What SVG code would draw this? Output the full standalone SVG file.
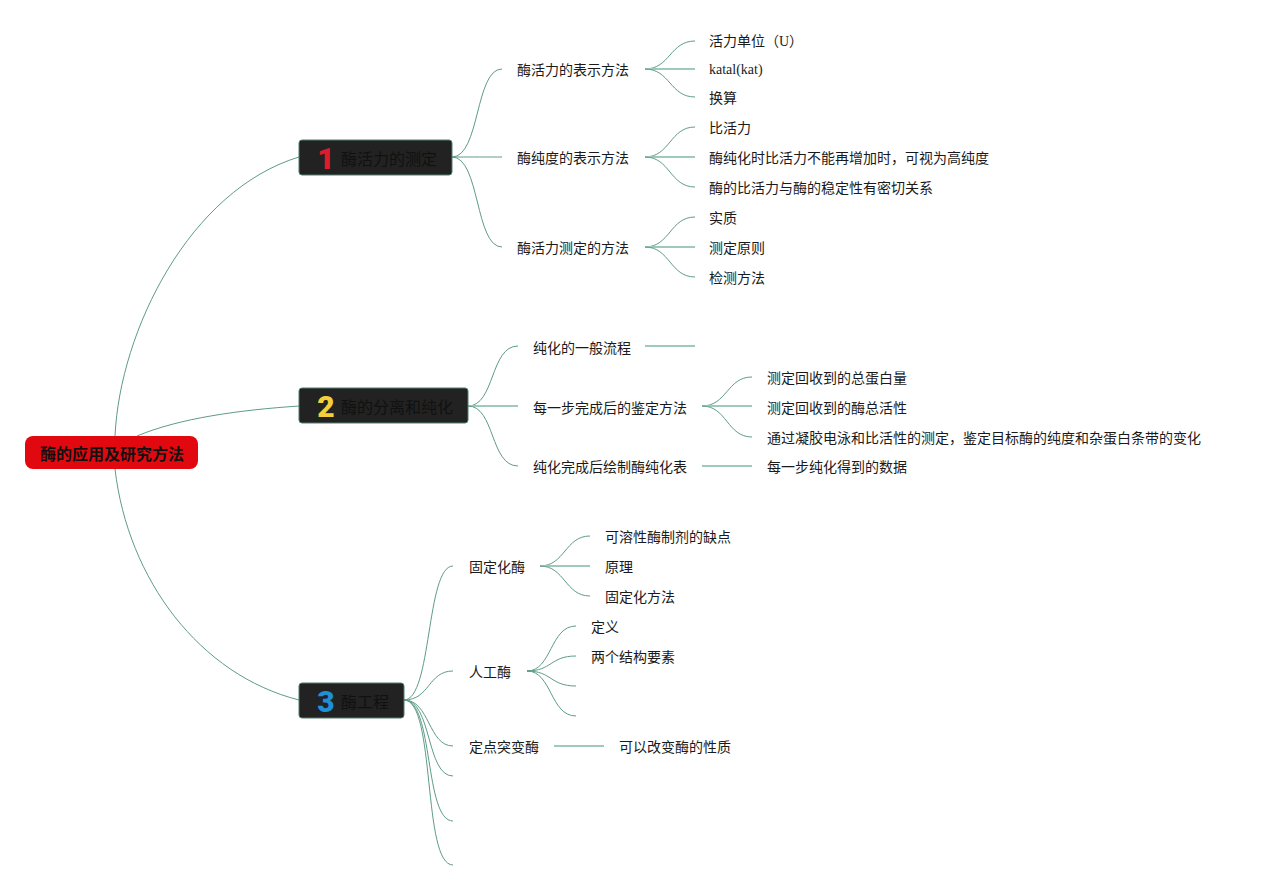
<svg xmlns="http://www.w3.org/2000/svg" width="1261" height="891" viewBox="0 0 1261 891">
<style>
.c{fill:none;stroke:#5e9c86;stroke-width:1}
.s{fill:none;stroke:#9fc9b9;stroke-width:2}
.t{font-family:"Noto Sans CJK SC","Liberation Sans",sans-serif;font-size:14px;fill:#1a1a1a;dominant-baseline:central}
.ser{font-family:"Liberation Serif","Noto Sans CJK SC",serif}
.nb{fill:#222;stroke:#4f7f6d;stroke-width:1}
.nt{font-family:"Noto Sans CJK SC","Liberation Sans",sans-serif;font-size:16px;fill:#111;dominant-baseline:central}
.num{font-family:Roboto,"Liberation Sans",sans-serif;font-size:30px;font-weight:900;text-anchor:middle;dominant-baseline:central}
</style>
<rect width="1261" height="891" fill="#fff"/>
<g id="connectors">
<path class="c" d="M115,436 C120,330 190,190 299,157"/>
<path class="c" d="M137,436 C180,418 240,410 299,406"/>
<path class="c" d="M115,469 C128,580 200,675 299,700"/>
<path class="c" d="M452,157 C480,157 475,69 502,69"/>
<path class="c" d="M452,157 C477,157 477,157 502,157"/>
<path class="c" d="M452,157 C480,157 475,247 502,247"/>
<path class="c" d="M645,69 C670,69 670,41 695,41"/>
<path class="s" d="M645,69 L695,69"/>
<path class="c" d="M645,69 C670,69 670,97 695,97"/>
<path class="c" d="M645,157 C670,157 670,127 695,127"/>
<path class="s" d="M645,157 L695,157"/>
<path class="c" d="M645,157 C670,157 670,187 695,187"/>
<path class="c" d="M645,247 C670,247 670,217 695,217"/>
<path class="s" d="M645,247 L695,247"/>
<path class="c" d="M645,247 C670,247 670,277 695,277"/>
<path class="c" d="M468,406 C495,406 490,346 518,346"/>
<path class="s" d="M468,406 L518,406"/>
<path class="c" d="M468,406 C495,406 490,466 518,466"/>
<path class="s" d="M645,346 L695,346"/>
<path class="c" d="M702,406 C727,406 727,377 752,377"/>
<path class="s" d="M702,406 L752,406"/>
<path class="c" d="M702,406 C727,406 727,437 752,437"/>
<path class="s" d="M702,466 L752,466"/>
<path class="c" d="M404,700 C432,700 426,566 453,566"/>
<path class="c" d="M404,700 C430,700 428,671 453,671"/>
<path class="c" d="M404,700 C430,700 428,746 453,746"/>
<path class="c" d="M404,700 C432,700 426,776 453,776"/>
<path class="c" d="M404,700 C434,700 424,821 453,821"/>
<path class="c" d="M404,700 C436,700 422,865 453,865"/>
<path class="c" d="M540,566 C565,566 565,536 590,536"/>
<path class="s" d="M540,566 L590,566"/>
<path class="c" d="M540,566 C565,566 565,596 590,596"/>
<path class="c" d="M527,671 C552,671 550,626 576,626"/>
<path class="c" d="M527,671 C552,671 550,656 576,656"/>
<path class="c" d="M527,671 C552,671 550,686 576,686"/>
<path class="c" d="M527,671 C552,671 550,716 576,716"/>
<path class="s" d="M554,746 L604,746"/>
</g>
<g id="root">
<rect x="25" y="436" width="173" height="33" rx="8" fill="#e2080f"/>
<text x="112" y="453" class="nt" style="font-weight:bold;text-anchor:middle;fill:#111">酶的应用及研究方法</text>
</g>
<g id="n1">
<rect class="nb" x="299" y="140" width="153" height="35" rx="3"/>
<text class="num" x="326" y="158" fill="#e01c2c">1</text>
<text class="nt" x="341" y="158">酶活力的测定</text>
</g>
<g id="n2">
<rect class="nb" x="299" y="388" width="169" height="35" rx="3"/>
<text class="num" x="326" y="406" fill="#f2d03c">2</text>
<text class="nt" x="341" y="406">酶的分离和纯化</text>
</g>
<g id="n3">
<rect class="nb" x="299" y="683" width="105" height="35" rx="3"/>
<text class="num" x="326" y="701" fill="#1f8fd8">3</text>
<text class="nt" x="341" y="701">酶工程</text>
</g>
<g id="n1a"><text class="t" x="517" y="69">酶活力的表示方法</text></g>
<g id="n1a1"><text class="t ser" x="709" y="41">活力单位（U）</text></g>
<g id="n1a2"><text class="t ser" x="709" y="69">katal(kat)</text></g>
<g id="n1a3"><text class="t" x="709" y="97">换算</text></g>
<g id="n1b"><text class="t" x="517" y="157">酶纯度的表示方法</text></g>
<g id="n1b1"><text class="t" x="709" y="127">比活力</text></g>
<g id="n1b2"><text class="t" x="709" y="157">酶纯化时比活力不能再增加时，可视为高纯度</text></g>
<g id="n1b3"><text class="t" x="709" y="187">酶的比活力与酶的稳定性有密切关系</text></g>
<g id="n1c"><text class="t" x="517" y="247">酶活力测定的方法</text></g>
<g id="n1c1"><text class="t" x="709" y="217">实质</text></g>
<g id="n1c2"><text class="t" x="709" y="247">测定原则</text></g>
<g id="n1c3"><text class="t" x="709" y="277">检测方法</text></g>
<g id="n2a"><text class="t" x="533" y="347">纯化的一般流程</text></g>
<g id="n2b"><text class="t" x="533" y="407">每一步完成后的鉴定方法</text></g>
<g id="n2b1"><text class="t" x="767" y="377">测定回收到的总蛋白量</text></g>
<g id="n2b2"><text class="t" x="767" y="407">测定回收到的酶总活性</text></g>
<g id="n2b3"><text class="t" x="767" y="437">通过凝胶电泳和比活性的测定，鉴定目标酶的纯度和杂蛋白条带的变化</text></g>
<g id="n2c"><text class="t" x="533" y="466">纯化完成后绘制酶纯化表</text></g>
<g id="n2c1"><text class="t" x="767" y="466">每一步纯化得到的数据</text></g>
<g id="n3a"><text class="t" x="469" y="566">固定化酶</text></g>
<g id="n3a1"><text class="t" x="605" y="536">可溶性酶制剂的缺点</text></g>
<g id="n3a2"><text class="t" x="605" y="566">原理</text></g>
<g id="n3a3"><text class="t" x="605" y="596">固定化方法</text></g>
<g id="n3b"><text class="t" x="469" y="671">人工酶</text></g>
<g id="n3b1"><text class="t" x="591" y="626">定义</text></g>
<g id="n3b2"><text class="t" x="591" y="656">两个结构要素</text></g>
<g id="n3c"><text class="t" x="469" y="746">定点突变酶</text></g>
<g id="n3c1"><text class="t" x="619" y="746">可以改变酶的性质</text></g>
</svg>
